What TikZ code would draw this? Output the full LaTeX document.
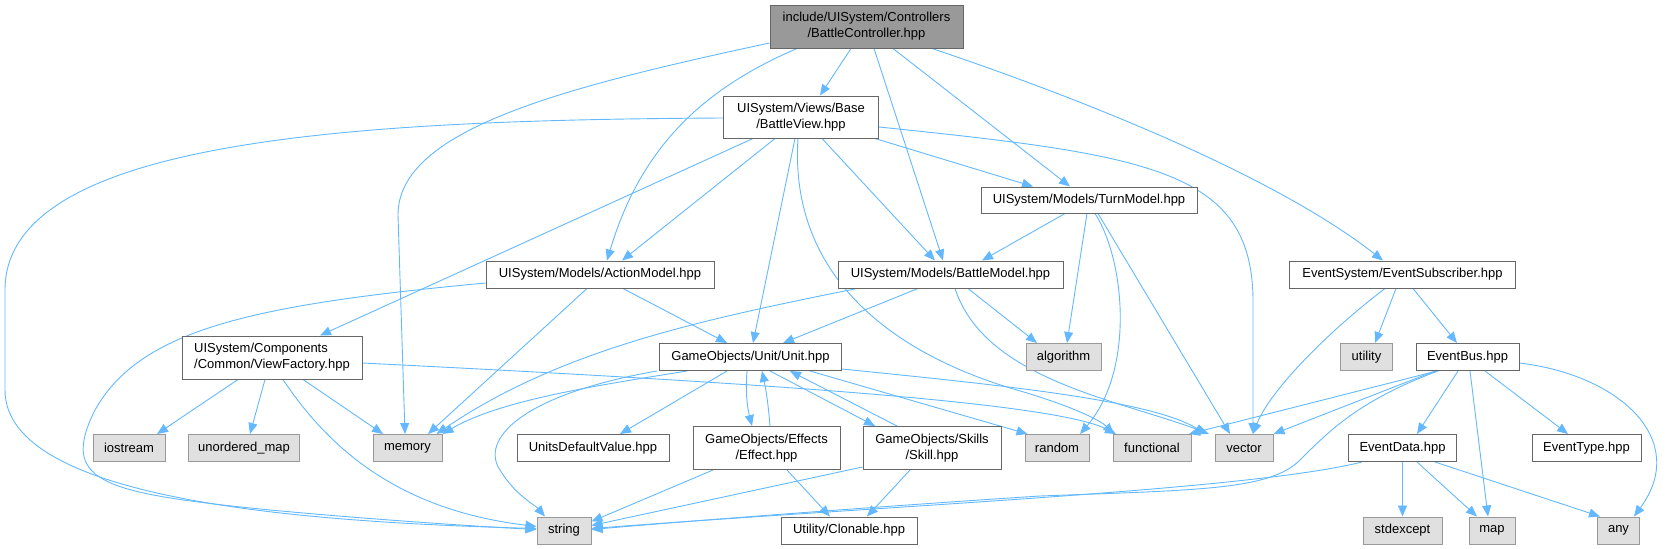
\documentclass[tikz,border=0pt]{standalone}
\usepackage{fontspec}
\setmainfont{Liberation Sans}
\usetikzlibrary{arrows.meta,calc}
\pgfdeclarelayer{bg}
\pgfsetlayers{bg,main}
\definecolor{edgec}{HTML}{63B8FF}
\definecolor{bordc}{HTML}{666666}
\definecolor{libbord}{HTML}{999999}
\definecolor{libfill}{HTML}{E0E0E0}
\definecolor{rootfill}{HTML}{999999}
\begin{document}
\begin{tikzpicture}[x=1pt,y=-1pt,
  base/.style={rectangle, inner sep=0pt, font=\fontsize{13}{16}\selectfont, align=center, line width=1pt},
  file/.style={base, draw=bordc, fill=white},
  lib/.style={base, draw=libbord, fill=libfill},
  rootbox/.style={base, draw=bordc, fill=rootfill},
  sz/.style 2 args={minimum width=#1pt, minimum height=#2pt},
  dep/.style={draw=edgec, line width=0.9pt, -{Triangle[length=11pt,width=9pt]}},
]
\useasboundingbox (0,0) rectangle (1666,549);
% nodes
\node[rootbox, sz={193}{43}] (root) at (866.5,26.5) {include/UISystem/Controllers\\/BattleController.hpp};
\node[file, sz={155}{42}] (bview) at (801,117) {UISystem/Views/Base\\/BattleView.hpp};
\node[file, sz={216}{26}] (turn) at (1089,200) {UISystem/Models/TurnModel.hpp};
\node[file, sz={228}{27}] (action) at (600,274.5) {UISystem/Models/ActionModel.hpp};
\node[file, sz={225}{27}] (bmodel) at (950.5,274.5) {UISystem/Models/BattleModel.hpp};
\node[file, sz={226}{27}] (evsub) at (1402.5,274.5) {EventSystem/EventSubscriber.hpp};
\node[file, sz={180}{43}, align=left] (vfact) at (272,357.5) {UISystem/Components\\/Common/ViewFactory.hpp};
\node[file, sz={182}{27}] (unit) at (750.5,357) {GameObjects/Unit/Unit.hpp};
\node[lib, sz={75}{27}] (algo) at (1063.5,357) {algorithm};
\node[lib, sz={52}{27}] (utility) at (1366.5,357) {utility};
\node[file, sz={103}{27}] (evbus) at (1467.5,357) {EventBus.hpp};
\node[lib, sz={72}{27}] (iostream) at (129,448) {iostream};
\node[lib, sz={111}{27}] (umap) at (244,448) {unordered\_map};
\node[lib, sz={69}{27}] (memory) at (407.5,448) {memory};
\node[file, sz={152}{27}] (udv) at (593,448) {UnitsDefaultValue.hpp};
\node[file, sz={147}{43}] (effect) at (766.5,448) {GameObjects/Effects\\/Effect.hpp};
\node[file, sz={138}{43}] (skill) at (932,448) {GameObjects/Skills\\/Skill.hpp};
\node[lib, sz={64}{27}] (random) at (1057,448) {random};
\node[lib, sz={78}{27}] (functional) at (1152,448) {functional};
\node[lib, sz={58}{27}] (vector) at (1244,448) {vector};
\node[file, sz={108}{27}] (evdata) at (1402.5,448) {EventData.hpp};
\node[file, sz={109}{27}] (evtype) at (1586.5,448) {EventType.hpp};
\node[lib, sz={54}{27}] (string) at (564,530.5) {string};
\node[file, sz={136}{27}] (clonable) at (849,530.5) {Utility/Clonable.hpp};
\node[lib, sz={79}{27}] (stdexcept) at (1402.5,530.5) {stdexcept};
\node[lib, sz={46}{27}] (map) at (1492,530.5) {map};
\node[lib, sz={42}{27}] (any) at (1618.5,530.5) {any};
% edges
\begin{pgfonlayer}{bg}
% root
\draw[dep] ($(root.west)+(0,16.5)$) .. controls (560,88) and (398,130) .. (398,215) -- ($(memory.north)+(-2.5,0)$);
\draw[dep] ($(root.south)+(-15.5,0)$) -- ($(bview.north)+(19,0)$);
\draw[dep] ($(root.south)+(-69.5,0)$) .. controls (700,90) and (640,150) .. ($(action.north)+(7,0)$);
\draw[dep] ($(root.south)+(7.5,0)$) -- ($(bmodel.north)+(-7.5,0)$);
\draw[dep] ($(root.south)+(26.5,0)$) -- ($(turn.north)+(-19,0)$);
\draw[dep] ($(root.south)+(65.5,0)$) .. controls (1100,105) and (1280,180) .. ($(evsub.north)+(-19.5,0)$);
% battle view
\draw[dep] ($(bview.west)+(0,1)$) .. controls (350,120) and (5,140) .. (5,290) -- (5,390) .. controls (5,500) and (300,522) .. ($(string.west)+(0,-2)$);
\draw[dep] ($(bview.south)+(-48,0)$) -- ($(vfact.north)+(48,0)$);
\draw[dep] ($(bview.south)+(-26,0)$) -- ($(action.north)+(22,0)$);
\draw[dep] ($(bview.south)+(-6,0)$) -- ($(unit.north)+(2.5,0)$);
\draw[dep] ($(bview.south)+(-3,0)$) .. controls (790,260) and (870,345) .. (1010,388) .. controls (1070,405) and (1100,420) .. ($(functional.north)+(-38,0)$);
\draw[dep] ($(bview.east)+(0,10)$) .. controls (1150,155) and (1252,170) .. (1253,300) -- ($(vector.north)+(9,0)$);
\draw[dep] ($(bview.south)+(74,0)$) -- ($(turn.north)+(-56,0)$);
\draw[dep] ($(bview.south)+(21,0)$) -- ($(bmodel.north)+(-15.5,0)$);
% turn model
\draw[dep] ($(turn.south)+(-24,0)$) -- ($(bmodel.north)+(31.5,0)$);
\draw[dep] ($(turn.south)+(-2,0)$) -- ($(algo.north)+(3.5,0)$);
\draw[dep] ($(turn.south)+(6,0)$) .. controls (1125,260) and (1135,370) .. ($(random.north)+(23,0)$);
\draw[dep] ($(turn.south)+(9,0)$) -- ($(vector.north)+(-14,0)$);
% action model
\draw[dep] ($(action.south)+(-13,0)$) -- ($(memory.north)+(20.5,0)$);
\draw[dep] ($(action.south)+(23,0)$) -- ($(unit.north)+(-23.5,0)$);
\draw[dep] ($(action.west)+(0,8.5)$) .. controls (250,305) and (140,330) .. (95,410) .. controls (60,480) and (100,492) .. (250,508) .. controls (350,518) and (470,526) .. ($(string.west)+(0,-1)$);
% battle model
\draw[dep] ($(bmodel.south)+(-93.5,0)$) .. controls (700,320) and (560,350) .. ($(memory.north)+(29,0)$);
\draw[dep] ($(bmodel.south)+(-32.5,0)$) -- ($(unit.north)+(32.5,0)$);
\draw[dep] ($(bmodel.south)+(17.5,0)$) -- ($(algo.north)+(-26.5,0)$);
\draw[dep] ($(bmodel.south)+(4.5,0)$) .. controls (985,380) and (1120,400) .. ($(vector.north)+(-35,0)$);
% unit
\draw[dep] ($(unit.south)+(-63.5,0)$) .. controls (600,385) and (500,400) .. (memory.north east);
\draw[dep] ($(unit.south)+(-93.5,0)$) .. controls (520,395) and (480,440) .. (500,470) .. controls (515,495) and (535,505) .. ($(string.north)+(-19,0)$);
\draw[dep] ($(unit.south)+(-23.5,0)$) -- ($(udv.north)+(27,0)$);
\draw[dep] ($(unit.south)+(-3.5,0)$) .. controls (745,395) and (748,410) .. ($(effect.north)+(-14.5,0)$);
\draw[dep] ($(effect.north)+(3.5,0)$) .. controls (768,400) and (765,385) .. ($(unit.south)+(11.5,0)$);
\draw[dep] ($(unit.south)+(19.5,0)$) -- ($(skill.north)+(-57,0)$);
\draw[dep] ($(skill.north)+(-35,0)$) -- ($(unit.south)+(39.5,0)$);
\draw[dep] ($(unit.south)+(59.5,0)$) -- ($(random.north west)+(3,0)$);
\draw[dep] ($(unit.east)+(0,12)$) .. controls (1000,385) and (1150,400) .. ($(vector.north)+(-38,0)$);
% effect, skill
\draw[dep] ($(effect.south)+(-53.5,0)$) -- ($(string.east)+(0,-9)$);
\draw[dep] ($(effect.south)+(20.5,0)$) -- ($(clonable.north)+(-19,0)$);
\draw[dep] ($(skill.west)+(0,19)$) -- ($(string.east)+(0,-5)$);
\draw[dep] ($(skill.south)+(-22,0)$) -- ($(clonable.north)+(18,0)$);
% view factory
\draw[dep] ($(vfact.south)+(-34,0)$) -- ($(iostream.north)+(28,0)$);
\draw[dep] ($(vfact.south)+(-7,0)$) -- ($(umap.north)+(6,0)$);
\draw[dep] ($(vfact.south)+(11,0)$) .. controls (330,450) and (400,510) .. ($(string.west)+(0,-4)$);
\draw[dep] ($(vfact.south)+(31,0)$) -- ($(memory.north)+(-24.5,0)$);
\draw[dep] ($(vfact.east)+(0,5.5)$) .. controls (700,380) and (1050,400) .. ($(functional.north)+(-36,0)$);
% event subscriber
\draw[dep] ($(evsub.south)+(-17.5,0)$) .. controls (1330,330) and (1270,390) .. ($(vector.north)+(9,0)$);
\draw[dep] ($(evsub.south)+(-6.5,0)$) -- ($(utility.north)+(8.5,0)$);
\draw[dep] ($(evsub.south)+(10.5,0)$) -- ($(evbus.north)+(-10.5,0)$);
% event bus
\draw[dep] ($(evbus.south)+(-30.5,0)$) -- ($(functional.north)+(37,0)$);
\draw[dep] ($(evbus.south)+(-32.5,0)$) -- (vector.north east);
\draw[dep] ($(evbus.south)+(-29.5,0)$) .. controls (1360,400) and (1330,430) .. (1300,460) .. controls (1270,490) and (1200,490) .. (1040,496) .. controls (900,505) and (700,520) .. ($(string.east)+(0,-1)$);
\draw[dep] ($(evbus.south)+(-9.5,0)$) -- ($(evdata.north)+(14.5,0)$);
\draw[dep] ($(evbus.south)+(2.5,0)$) -- ($(map.north)+(-4,0)$);
\draw[dep] ($(evbus.south)+(17.5,0)$) -- ($(evtype.north)+(-18.5,0)$);
\draw[dep] ($(evbus.east)+(0,6)$) .. controls (1620,375) and (1690,440) .. ($(any.north)+(15.5,0)$);
% event data
\draw[dep] ($(evdata.south)+(-40.5,0)$) .. controls (1250,490) and (900,505) .. ($(string.east)+(0,-2)$);
\draw[dep] (evdata.south) -- (stdexcept.north);
\draw[dep] ($(evdata.south)+(14.5,0)$) -- ($(map.north)+(-15,0)$);
\draw[dep] ($(evdata.south)+(32.5,0)$) -- ($(any.north west)+(3,0)$);
\end{pgfonlayer}
\end{tikzpicture}
\end{document}
